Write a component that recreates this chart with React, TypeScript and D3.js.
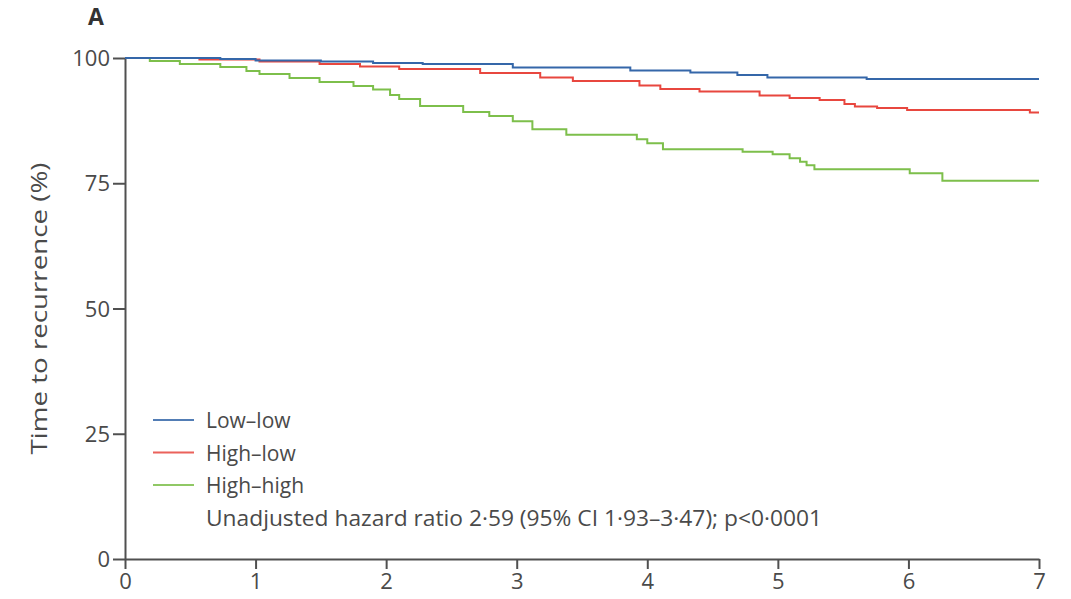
import React, { useEffect, useRef } from 'react';
import * as d3 from 'd3';

// data (years, % recurrence-free)
const lowLowTime = [0, 0.73, 1.0, 1.5, 1.9, 2.28, 2.97, 3.87, 4.33, 4.69, 4.92, 5.68, 7.0];
const lowLowValue = [100, 99.8, 99.5, 99.3, 99.0, 98.8, 98.1, 97.5, 97.1, 96.6, 96.1, 95.8, 95.8];

const highLowTime = [0, 0.57, 1.03, 1.49, 1.8, 2.1, 2.72, 3.18, 3.43, 3.94, 4.1, 4.4, 4.86, 5.09, 5.32, 5.51, 5.59, 5.76, 5.99, 6.93, 7.0];
const highLowValue = [100, 99.7, 99.3, 98.8, 98.3, 97.8, 97.0, 96.1, 95.4, 94.5, 93.8, 93.3, 92.5, 92.0, 91.6, 90.8, 90.3, 90.0, 89.6, 89.1, 89.1];

const highHighTime = [0, 0.19, 0.42, 0.73, 0.93, 1.03, 1.26, 1.49, 1.75, 1.9, 2.03, 2.1, 2.26, 2.59, 2.79, 2.97, 3.12, 3.38, 3.92, 4.0, 4.12, 4.73, 4.96, 5.09, 5.17, 5.22, 5.28, 6.01, 6.26, 7.0];
const highHighValue = [100, 99.4, 98.8, 98.2, 97.4, 96.8, 96.0, 95.2, 94.4, 93.7, 92.6, 91.8, 90.4, 89.2, 88.4, 87.4, 85.8, 84.7, 83.8, 83.0, 81.8, 81.3, 80.8, 80.0, 79.3, 78.6, 77.8, 77.0, 75.5, 75.5];

const seriesNames = ['Low–low', 'High–low', 'High–high'];
const seriesColors = ['#3567a9', '#e8473f', '#7dbf4b'];
const xTicks = [0, 1, 2, 3, 4, 5, 6, 7];
const yTicks = [0, 25, 50, 75, 100];
const statText = 'Unadjusted hazard ratio 2·59 (95% CI 1·93–3·47); p<0·0001';

const FONT = '"Open Sans", "Noto Sans", sans-serif';

export default function App() {
  const ref = useRef<SVGSVGElement | null>(null);

  useEffect(() => {
    draw();
  }, []);

  function draw() {
    const svg = d3.select(ref.current);
    svg.selectAll('*').remove();
    const width = 1071;
    const height = 599;
    const margin = { top: 58, right: 32, bottom: 40, left: 125 };
    const xScale = d3.scaleLinear().domain([0, 7]).range([margin.left, width - margin.right]);
    const yScale = d3.scaleLinear().domain([0, 100]).range([height - margin.bottom, margin.top]);
    const axisColor = '#505050';
    const textColor = '#4a4a4a';

    // axes
    const xAxis = d3.axisBottom(xScale).tickValues(xTicks).tickFormat(d3.format('d')).tickSizeInner(10).tickSizeOuter(0).tickPadding(4);
    const yAxis = d3.axisLeft(yScale).tickValues(yTicks).tickFormat(d3.format('d')).tickSizeInner(12).tickSizeOuter(0).tickPadding(3);
    const gx = svg.append('g').attr('transform', `translate(0, ${yScale(0)})`).call(xAxis);
    const gy = svg.append('g').attr('transform', `translate(${xScale(0)}, 0)`).call(yAxis);
    [gx, gy].forEach((g) => {
      g.select('.domain').attr('stroke', axisColor).attr('stroke-width', 2);
      g.selectAll('.tick line').attr('stroke', axisColor).attr('stroke-width', 2);
      g.selectAll('.tick text').attr('fill', textColor).attr('font-size', 22).attr('font-family', FONT);
    });
    gy.selectAll('.tick text').attr('dy', '0.35em');

    // curves
    const series = [
      lowLowTime.map((t, i) => [t, lowLowValue[i]]),
      highLowTime.map((t, i) => [t, highLowValue[i]]),
      highHighTime.map((t, i) => [t, highHighValue[i]]),
    ];
    const line = d3
      .line<number[]>()
      .x((d) => xScale(d[0]))
      .y((d) => yScale(d[1]))
      .curve(d3.curveStepAfter);
    // green first so blue/red lie on top near 100
    [2, 1, 0].forEach((i) => {
      svg
        .append('path')
        .attr('d', line(series[i]))
        .attr('fill', 'none')
        .attr('stroke', seriesColors[i])
        .attr('stroke-width', 2);
    });

    // y label
    svg
      .append('text')
      .text('Time to recurrence (%)')
      .attr('transform', `translate(47, ${yScale(50)}) rotate(-90)`)
      .attr('text-anchor', 'middle')
      .attr('font-size', 21)
      .attr('font-family', FONT)
      .attr('fill', textColor)
      .attr('textLength', 292)
      .attr('lengthAdjust', 'spacingAndGlyphs');

    // panel letter
    svg
      .append('text')
      .text('A')
      .attr('x', 88)
      .attr('y', 25)
      .attr('font-size', 23)
      .attr('font-weight', 'bold')
      .attr('font-family', FONT)
      .attr('fill', '#333');

    // legend
    const legendX = 153;
    const legendY = 420;
    const rowGap = 32.5;
    seriesNames.forEach((name, i) => {
      const y = legendY + i * rowGap;
      svg
        .append('line')
        .attr('x1', legendX)
        .attr('x2', legendX + 41)
        .attr('y1', y)
        .attr('y2', y)
        .attr('stroke', seriesColors[i])
        .attr('stroke-width', 2)
        .attr('opacity', 0.85);
      svg
        .append('text')
        .text(name)
        .attr('x', legendX + 53)
        .attr('y', y + 8)
        .attr('font-size', 21)
        .attr('font-family', FONT)
        .attr('fill', textColor);
    });
    svg
      .append('text')
      .text(statText)
      .attr('x', legendX + 53)
      .attr('y', legendY + 3 * rowGap + 8)
      .attr('font-size', 21)
      .attr('font-family', FONT)
      .attr('fill', textColor)
      .attr('textLength', 616)
      .attr('lengthAdjust', 'spacingAndGlyphs');
  }

  return (
    <svg
      ref={ref}
      width={1071}
      height={599}
      style={{ position: 'absolute', left: 0, top: 0, background: '#fff' }}
    />
  );
}
